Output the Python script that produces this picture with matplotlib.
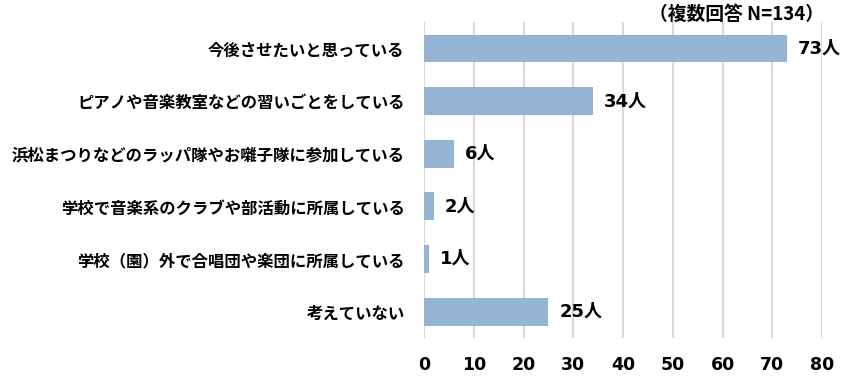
import matplotlib
matplotlib.use("Agg")
import matplotlib.pyplot as plt

plt.rcParams['font.family'] = ['Noto Sans CJK JP', 'DejaVu Sans']
num_font = ['DejaVu Sans', 'Noto Sans CJK JP']

# Data
categories = [
    "今後させたいと思っている",
    "ピアノや音楽教室などの習いごとをしている",
    "浜松まつりなどのラッパ隊やお囃子隊に参加している",
    "学校で音楽系のクラブや部活動に所属している",
    "学校（園）外で合唱団や楽団に所属している",
    "考えていない",
]
counts = [73, 34, 6, 2, 1, 25]
note = "（複数回答 N=134）"

fig = plt.figure(figsize=(8.57, 3.89), dpi=100)
ax = fig.add_axes([0.4948, 0.131, 0.4644, 0.812])

pos = list(range(len(categories)))
ax.barh(pos, counts, height=0.53, color="#95B3D3", zorder=3)
ax.set_ylim(len(categories) - 0.5, -0.5)
ax.set_xlim(0, 80)
ax.set_xticks(range(0, 81, 10))
ax.set_yticks(pos)
ax.set_yticklabels(categories, fontsize=11.8, fontweight="bold")
ax.tick_params(axis="both", length=0)
ax.tick_params(axis="x", pad=13)
ax.tick_params(axis="y", pad=14)
for lbl in ax.get_xticklabels():
    lbl.set_fontweight("bold")
    lbl.set_fontsize(12.5)
    lbl.set_family(num_font)

ax.grid(axis="x", color="#D9D9D9", linewidth=1.5, zorder=0)
for s in ax.spines.values():
    s.set_visible(False)

for p, v in zip(pos, counts):
    ax.text(v + 2.2, p, f"{v}人", va="center", ha="left",
            fontsize=13, fontweight="bold", family=num_font)

ax.text(80.3, -0.46, note, ha="right", va="bottom", fontsize=13.5,
        fontweight="bold")

fig.savefig("out.png", dpi=100)
